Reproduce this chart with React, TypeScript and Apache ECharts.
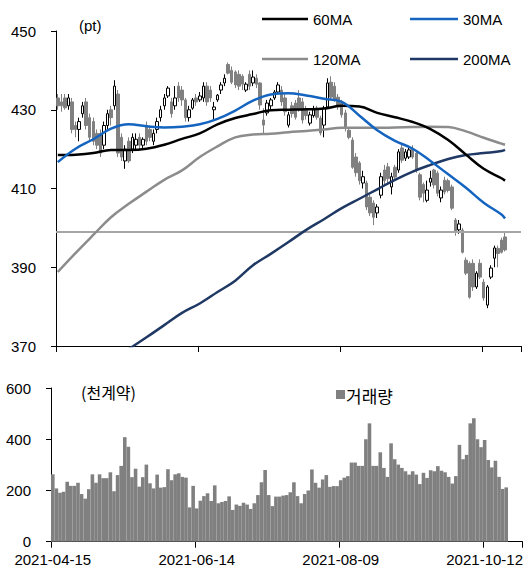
import React, { useEffect, useRef } from "react";
import * as echarts from "echarts";

// ---- categories (Korean trading days) ----
const START_DATE = "2021-04-15";
const HOLIDAYS = ["2021-05-05", "2021-05-19", "2021-08-16", "2021-09-20", "2021-09-21", "2021-09-22", "2021-10-04", "2021-10-11"];
const CATEGORY_COUNT = 131;
const TICK_LABELS = ["2021-04-15", "2021-06-14", "2021-08-09", "2021-10-12"];

function buildDates(): string[] {
  const out: string[] = [];
  const d = new Date(START_DATE + "T00:00:00Z");
  while (out.length < CATEGORY_COUNT) {
    const s = d.toISOString().slice(0, 10);
    const wd = d.getUTCDay();
    if (wd !== 0 && wd !== 6 && !HOLIDAYS.includes(s)) out.push(s);
    d.setUTCDate(d.getUTCDate() + 1);
  }
  return out;
}

// ---- candles (pt) ----
const opens = [433,432,433,431,432,426,425,429,432,428,427,424,424,421,426,430,431,434,423,417,422,420,421,423,421,426,425,422,425,428,431,433.5,432,431,436,435,432.5,428,430.4,433,432.5,433,436,435,430,432.5,435,436.8,441.5,440,439.6,439,438.5,435,439,436.8,438,436.8,427.4,429.2,431,433,434.5,435,433,426.1,431,431.7,433,432,430,426.6,428.5,430.4,427.9,426.1,430.7,437,436,433.2,431.7,429.2,424.8,422.3,418,416.5,411.4,411.4,407.8,406.3,403.8,408.3,414.7,415.5,410.4,415.4,414.7,420.3,417.7,418,420,419,413.5,411,407,411.6,414.7,413.9,407.6,412.1,412,410.4,402,399.5,399.4,391.8,391,391,385,391,386.2,380.4,387.5,392.3,394.8,396.9,397.7];
const closes = [431,431,430.5,433,425,425,427,431,426,423,422,421,419,426,429,428,436,419,418,420,417,423,422.5,421,422.5,422,423,424,427,430,433,435.5,429,433,433,432.5,428,430,432.5,432,433.5,436,432,433,430.7,433.7,436.3,438,439.3,437,436.3,436,436.5,436.5,436,438.3,436.5,431.2,426.1,431.7,432.5,434.5,436.3,432,429.5,428.7,429,428.1,430,427.4,428.5,428.7,430,428.1,424.1,430.4,436.8,433.2,432.5,430.7,428.7,425.4,423,415.4,414,412,413,405.3,403.8,402.7,405.3,413,412,412.5,413,412.9,419.3,417.2,419.3,419.8,418,414.7,407.8,408.8,409.6,412.6,410.9,408.8,409.6,409.1,409.5,405,399,401,393.8,388.5,382.4,385,388.5,387.5,382.2,385,389.8,394.9,393.5,393.8,394.4];
const lows = [430,429.5,430,430,424,423,422,428,425,422,421,420,418,420,425,426,430,418,417,415,416.5,419,420,420,420,421,422,421,424,427,430,433,428,430,432,431,427,427,430,431,432,432,431,432,427.5,432,434,436,439,436.5,435.5,435,435,434.5,435,436,435.5,430,423.6,428.5,430,432.5,434,431,428.5,425.5,428,427.5,429.5,426.5,427.5,426,428,427.5,423.5,423,430.5,432.5,432,430,428,424.5,422.5,415,413,411,410,404.5,403,400.7,402.5,407.5,411,411.5,408.5,412,414,416.5,417,417.5,417.5,414,407,406.5,406.5,410.5,410,408,406.5,408.5,409,404.5,398,398.5,393.5,388,382,384,384.5,387,381.5,379.6,387,390,390,393.5,394];
const highs = [434,434,434,434,433,427,428,432,433,429,428,425,425,427,430,431,437.5,435,424,421,423,424,424,424,423,427,426,425,428,431,434,436,433,436,437,436,433,431,433,434,434.5,437,437,436,432,434,437,439,442,441,440,440,439,437,440,440,439,437,430.4,432.5,433,435,437,436,434,429.5,432,432.5,435,433,431,429.5,431,431,428.5,431,438,438.5,437,434,432.5,430,425.5,423,419,417,414.5,412,408.5,407,406,414,416,416.5,414,416,420,421.5,420,420.5,421,419.5,414,411.5,412,414.5,415,414.5,410.5,413,412.5,411,402.5,402,400,392.5,391.5,392,389,392,387,385.5,390.5,395.5,395.5,397.5,398.7];

// ---- moving averages, read at these category indices ----
const maIdx = [0,5,10,15,20,25,30,35,40,45,50,55,60,65,70,75,80,85,90,95,100,105,110,115,120,125,126];
const ma30 = [416.7,420.1,422.5,425.2,426.3,425.8,425.5,425.7,426.3,427.7,429.8,432.3,433.9,434.2,433.6,432.8,432.0,428.5,424.8,422.1,420.1,417.0,413.6,410.2,406.4,403.4,402.4];
const ma60 = [418.5,418.6,419.0,419.8,419.8,420.1,421.1,422.6,424.0,426.3,427.9,428.9,429.9,430.0,430.1,430.3,431.0,430.8,429.2,428.1,426.9,425.1,422.3,418.6,415.0,412.6,412.0];
const ma120 = [388.8,393.6,398.2,402.7,406.1,409.2,412.2,414.6,418.0,420.7,423.0,423.7,423.9,424.3,424.6,425.0,425.4,425.4,425.4,425.5,425.6,425.7,425.6,424.5,422.9,421.4,421.1];
const ma200 = [357.2,360.2,363.2,366.2,369.2,372.2,375.3,378.4,380.8,383.7,386.6,390.5,393.4,396.4,399.5,402.2,405.0,407.4,409.8,412.2,414.3,416.0,417.5,418.5,419.0,419.5,419.8];
const REF_LEVEL = 399;

// ---- volume (thousand contracts) ----
const volumes = [263,208,191,195,234,218,218,230,186,168,205,263,230,263,248,248,271,197,260,296,408,371,252,285,215,252,301,228,208,262,211,213,283,240,263,267,253,250,134,218,130,160,178,189,159,220,150,155,159,177,124,145,140,152,145,128,150,182,232,280,182,139,176,176,180,182,193,232,178,150,186,200,282,230,211,243,260,214,217,217,240,250,256,309,309,296,296,400,462,296,296,349,288,253,384,322,301,288,275,262,275,262,225,269,249,279,275,295,277,271,253,227,256,378,322,339,462,482,400,369,397,319,290,316,253,206,212];

const FONT = "'Liberation Sans', Arial, sans-serif";
const KFONT = "'Noto Sans CJK KR', sans-serif";

export default function App() {
  const ref = useRef<HTMLDivElement>(null);
  useEffect(() => {
    if (!ref.current) return;
    const chart = echarts.init(ref.current, null, { renderer: "svg" });
    const dates = buildDates();
    const tickSet = new Set(TICK_LABELS.map((t) => dates.indexOf(t)));
    const showTick = (i: number) => tickSet.has(i);
    const candles = opens.map((o, i) => [o, closes[i], lows[i], highs[i]]);
    const ma = (vals: number[]) => maIdx.map((x, k) => [x, vals[k]]);
    const lineSeries = (name: string, vals: number[], color: string) => ({
      name,
      type: "line",
      xAxisIndex: 0,
      yAxisIndex: 0,
      data: ma(vals),
      showSymbol: false,
      symbol: "none",
      smooth: 0.4,
      clip: true,
      lineStyle: { color, width: 2.5 },
      z: 5,
    });
    const axisCommon = {
      axisLine: { show: true, lineStyle: { color: "#000", width: 1 } },
      splitLine: { show: false },
    };
    const textEl = (text: string, x: number, y: number, size: number, family = FONT) => ({
      type: "text",
      x,
      y,
      style: {
        text,
        fill: "#000",
        fontSize: size,
        fontFamily: family,
        verticalAlign: "middle",
        textVerticalAlign: "middle",
      },
    });
    const legLine = (x1: number, x2: number, y: number, color: string) => ({
      type: "line",
      shape: { x1, y1: y, x2, y2: y },
      style: { stroke: color, lineWidth: 2.5 },
    });

    chart.setOption({
      animation: false,
      textStyle: { fontFamily: FONT },
      grid: [
        { left: 56, top: 31, width: 465, height: 315 },
        { left: 51, top: 388, width: 472, height: 153.7 },
      ],
      xAxis: [
        {
          type: "category",
          gridIndex: 0,
          data: dates,
          boundaryGap: true,
          ...axisCommon,
          axisTick: { show: true, interval: showTick, length: 6, lineStyle: { color: "#000" } },
          axisLabel: { show: false },
        },
        {
          type: "category",
          gridIndex: 1,
          data: dates,
          boundaryGap: true,
          ...axisCommon,
          axisTick: { show: true, interval: showTick, length: 6, lineStyle: { color: "#000" } },
          axisLabel: { show: true, interval: showTick, fontSize: 15, color: "#000", margin: 10, fontFamily: FONT },
        },
      ],
      yAxis: [
        {
          type: "value",
          gridIndex: 0,
          min: 370,
          max: 450,
          interval: 20,
          ...axisCommon,
          axisTick: { show: true, length: 5, lineStyle: { color: "#000" } },
          axisLabel: { fontSize: 15, color: "#000", margin: 20, fontFamily: FONT },
        },
        {
          type: "value",
          gridIndex: 1,
          min: 0,
          max: 600,
          interval: 200,
          ...axisCommon,
          axisTick: { show: true, length: 5, lineStyle: { color: "#000" } },
          axisLabel: { fontSize: 15, color: "#000", margin: 20, fontFamily: FONT },
        },
      ],
      series: [
        {
          name: "KOSPI200",
          type: "candlestick",
          xAxisIndex: 0,
          yAxisIndex: 0,
          data: candles,
          barWidth: 3,
          itemStyle: {
            color: "#ffffff",
            color0: "#808080",
            borderColor: "#000000",
            borderColor0: "#808080",
            borderWidth: 1,
          },
          markLine: {
            silent: true,
            symbol: "none",
            label: { show: false },
            lineStyle: { color: "#a6a6a6", width: 2, type: "solid" },
            data: [{ yAxis: REF_LEVEL }],
          },
          z: 3,
        },
        lineSeries("120MA", ma120, "#8c8c8c"),
        lineSeries("200MA", ma200, "#1f3864"),
        lineSeries("60MA", ma60, "#000000"),
        lineSeries("30MA", ma30, "#1565c0"),
        {
          name: "거래량",
          type: "bar",
          xAxisIndex: 1,
          yAxisIndex: 1,
          data: volumes,
          barCategoryGap: "0%",
          itemStyle: { color: "#808080" },
        },
      ],
      graphic: [
        textEl("(pt)", 79, 25, 15),
        legLine(262, 308, 19, "#000000"),
        textEl("60MA", 313, 19, 15),
        legLine(410, 458, 19, "#1565c0"),
        textEl("30MA", 463, 19, 15),
        legLine(262, 308, 59, "#8c8c8c"),
        textEl("120MA", 313, 59.5, 15),
        legLine(410, 458, 59, "#1f3864"),
        textEl("200MA", 463, 59.5, 15),
        textEl("(천계약)", 81, 392, 16, KFONT),
        { type: "rect", shape: { x: 336, y: 390, width: 9, height: 9 }, style: { fill: "#808080" } },
        textEl("거래량", 346, 395, 17, KFONT),
      ],
    });
    return () => chart.dispose();
  }, []);
  return <div ref={ref} style={{ position: "absolute", left: 0, top: 0, width: 526, height: 571 }} />;
}
